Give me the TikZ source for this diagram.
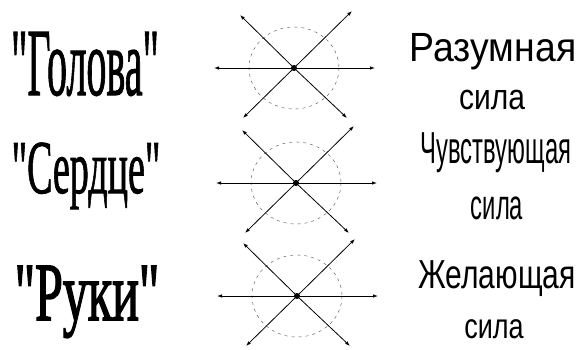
\documentclass[tikz,border=0pt]{standalone}
\usepackage{fontspec}
\setmainfont{Liberation Serif}[Ligatures=TeXOff]
\newfontfamily\partfont{Liberation Serif}[Ligatures=TeXOff,FakeBold=1.4]
\newfontfamily\handfont{Liberation Serif}[Ligatures=TeXOff,FakeBold=2.2]
\newfontfamily\forcefont{Liberation Sans}
\usetikzlibrary{arrows.meta}

\tikzset{
  ray/.style={line width=0.8pt,-{Latex[length=5pt,width=3.5pt]}},
  field/.style={line width=0.4pt,dash pattern=on 3pt off 4pt,black!70},
  partlabel/.style={anchor=base,font=\partfont\fontsize{40}{40}\selectfont},
  forcelabel/.style={font=\forcefont\fontsize{30}{30}\selectfont}
}

\begin{document}
\begin{tikzpicture}[x=1pt,y=-1pt]

            \useasboundingbox (0,0) rectangle (582,349);
            % centres of the three crosses
            \coordinate (c1) at (294,68);
            \coordinate (c2) at (296,183);
            \coordinate (c3) at (297,296);

            \foreach \i in {1,2,3} {
              % dashed field round the centre
              \draw[field] (c\i) ellipse (45 and 41);
              \path (c\i) ++(-80,0) coordinate (w\i);
              \path (c\i) ++(81,0) coordinate (e\i);
              \path (c\i) ++(-54,-53) coordinate (nw\i);
              \path (c\i) ++(58,-57) coordinate (ne\i);
              \path (c\i) ++(-51,50) coordinate (sw\i);
              \path (c\i) ++(53,50) coordinate (se\i);
              \draw[ray] (c\i) -- (w\i);
              \draw[ray] (c\i) -- (e\i);
              \draw[ray] (c\i) -- (nw\i);
              \draw[ray] (c\i) -- (ne\i);
              \draw[ray] (c\i) -- (sw\i);
              \draw[ray] (c\i) -- (se\i);
              \fill (c\i) circle (3);
            }

            % left labels
            \node[partlabel,yscale=2.4] (head) at (85,95) {"Голова"};
            \node[partlabel,yscale=2.0,font=\partfont\fontsize{38}{38}\selectfont] (heart) at (86,193) {"Сердце"};
            \node[partlabel,yscale=1.65,font=\handfont\fontsize{50}{50}\selectfont] (hands) at (87,320) {"Руки"};

            % right labels
            \node[forcelabel,xscale=1.1,yscale=1.2,font=\forcefont\fontsize{34}{34}\selectfont] (mind) at (493,52) {Разумная};
            \node[forcelabel,yscale=1.2] (mind2) at (492,100) {сила};
            \node[forcelabel,xscale=0.85,yscale=1.6,font=\forcefont\fontsize{28}{28}\selectfont] (feel) at (496,153) {Чувствующая};
            \node[forcelabel,xscale=0.85,yscale=1.5,font=\forcefont\fontsize{28}{28}\selectfont] (feel2) at (497,208) {сила};
            \node[forcelabel,yscale=1.35] (will) at (497,279) {Желающая};
            \node[forcelabel,yscale=1.3,font=\forcefont\fontsize{27}{27}\selectfont] (will2) at (494,329) {сила};
        \end{tikzpicture}
\end{document}
